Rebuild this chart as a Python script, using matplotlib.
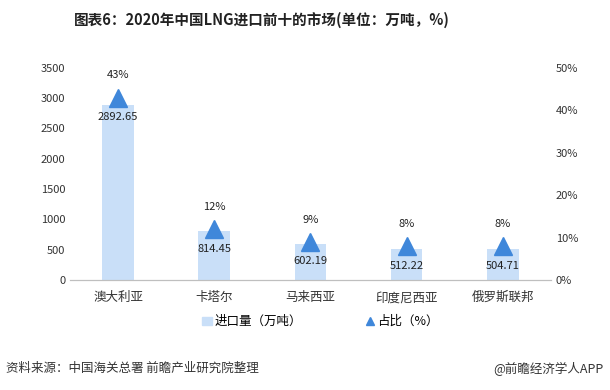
import matplotlib.pyplot as plt
import numpy as np

plt.rcParams['font.family'] = ['Noto Sans CJK SC', 'DejaVu Sans']

# datos
paises = ['澳大利亚', '卡塔尔', '马来西亚', '印度尼西亚', '俄罗斯联邦']
importacion = [2892.65, 814.45, 602.19, 512.22, 504.71]
porcentaje = [43, 12, 9, 8, 8]

color_barra = '#C9DFF8'
color_tri = '#3F87DA'

fig = plt.figure(figsize=(6.1, 3.9), dpi=100)
ax = fig.add_axes([0.115, 0.282, 0.788, 0.544])
ax2 = ax.twinx()

x = np.arange(len(paises))
ax.bar(x, importacion, width=0.33, color=color_barra, zorder=1)
ax2.plot(x, porcentaje, linestyle='none', marker='^', markersize=13,
         color=color_tri, zorder=3)

for xi, v, p in zip(x, importacion, porcentaje):
    ax2.annotate(f'{v:.2f}', (xi, p), xytext=(0, -14), textcoords='offset points',
                 ha='center', va='center', fontsize=8, color='#222222')
    ax2.annotate(f'{p}%', (xi, p), xytext=(0, 16), textcoords='offset points',
                 ha='center', va='center', fontsize=8, color='#222222')

ax.set_ylim(0, 3500)
ax.set_yticks(range(0, 3501, 500))
ax2.set_ylim(0, 50)
ax2.set_yticks(range(0, 51, 10))
ax2.set_yticklabels([f'{t}%' for t in range(0, 51, 10)])
ax.set_xlim(-0.5, len(paises) - 0.5)
ax.set_xticks(x)
ax.set_xticklabels(paises)

for a in (ax, ax2):
    for s in ['top', 'left', 'right']:
        a.spines[s].set_visible(False)
    a.spines['bottom'].set_color('#BFBFBF')
    a.tick_params(length=0, labelsize=8, colors='#333333')
ax.tick_params(axis='x', labelsize=9, pad=8)

# leyenda
h1 = plt.Rectangle((0, 0), 1, 1, color=color_barra)
h2 = plt.Line2D([], [], linestyle='none', marker='^', markersize=6, color=color_tri)
fig.legend([h1, h2], ['进口量（万吨）', '占比（%）'], loc='center',
           bbox_to_anchor=(0.525, 0.175), ncol=2, frameon=False, fontsize=9,
           handlelength=0.8, handletextpad=0.2, columnspacing=5)

fig.text(0.43, 0.948, '图表6：2020年中国LNG进口前十的市场(单位：万吨，%)',
         ha='center', va='center', fontsize=10.5, fontweight='bold', color='#222222')
fig.text(0.01, 0.055, '资料来源：中国海关总署 前瞻产业研究院整理', ha='left',
         va='center', fontsize=9, color='#333333')
fig.text(0.99, 0.055, '@前瞻经济学人APP', ha='right', va='center',
         fontsize=9, color='#333333')

fig.savefig('out.png', dpi=100)
